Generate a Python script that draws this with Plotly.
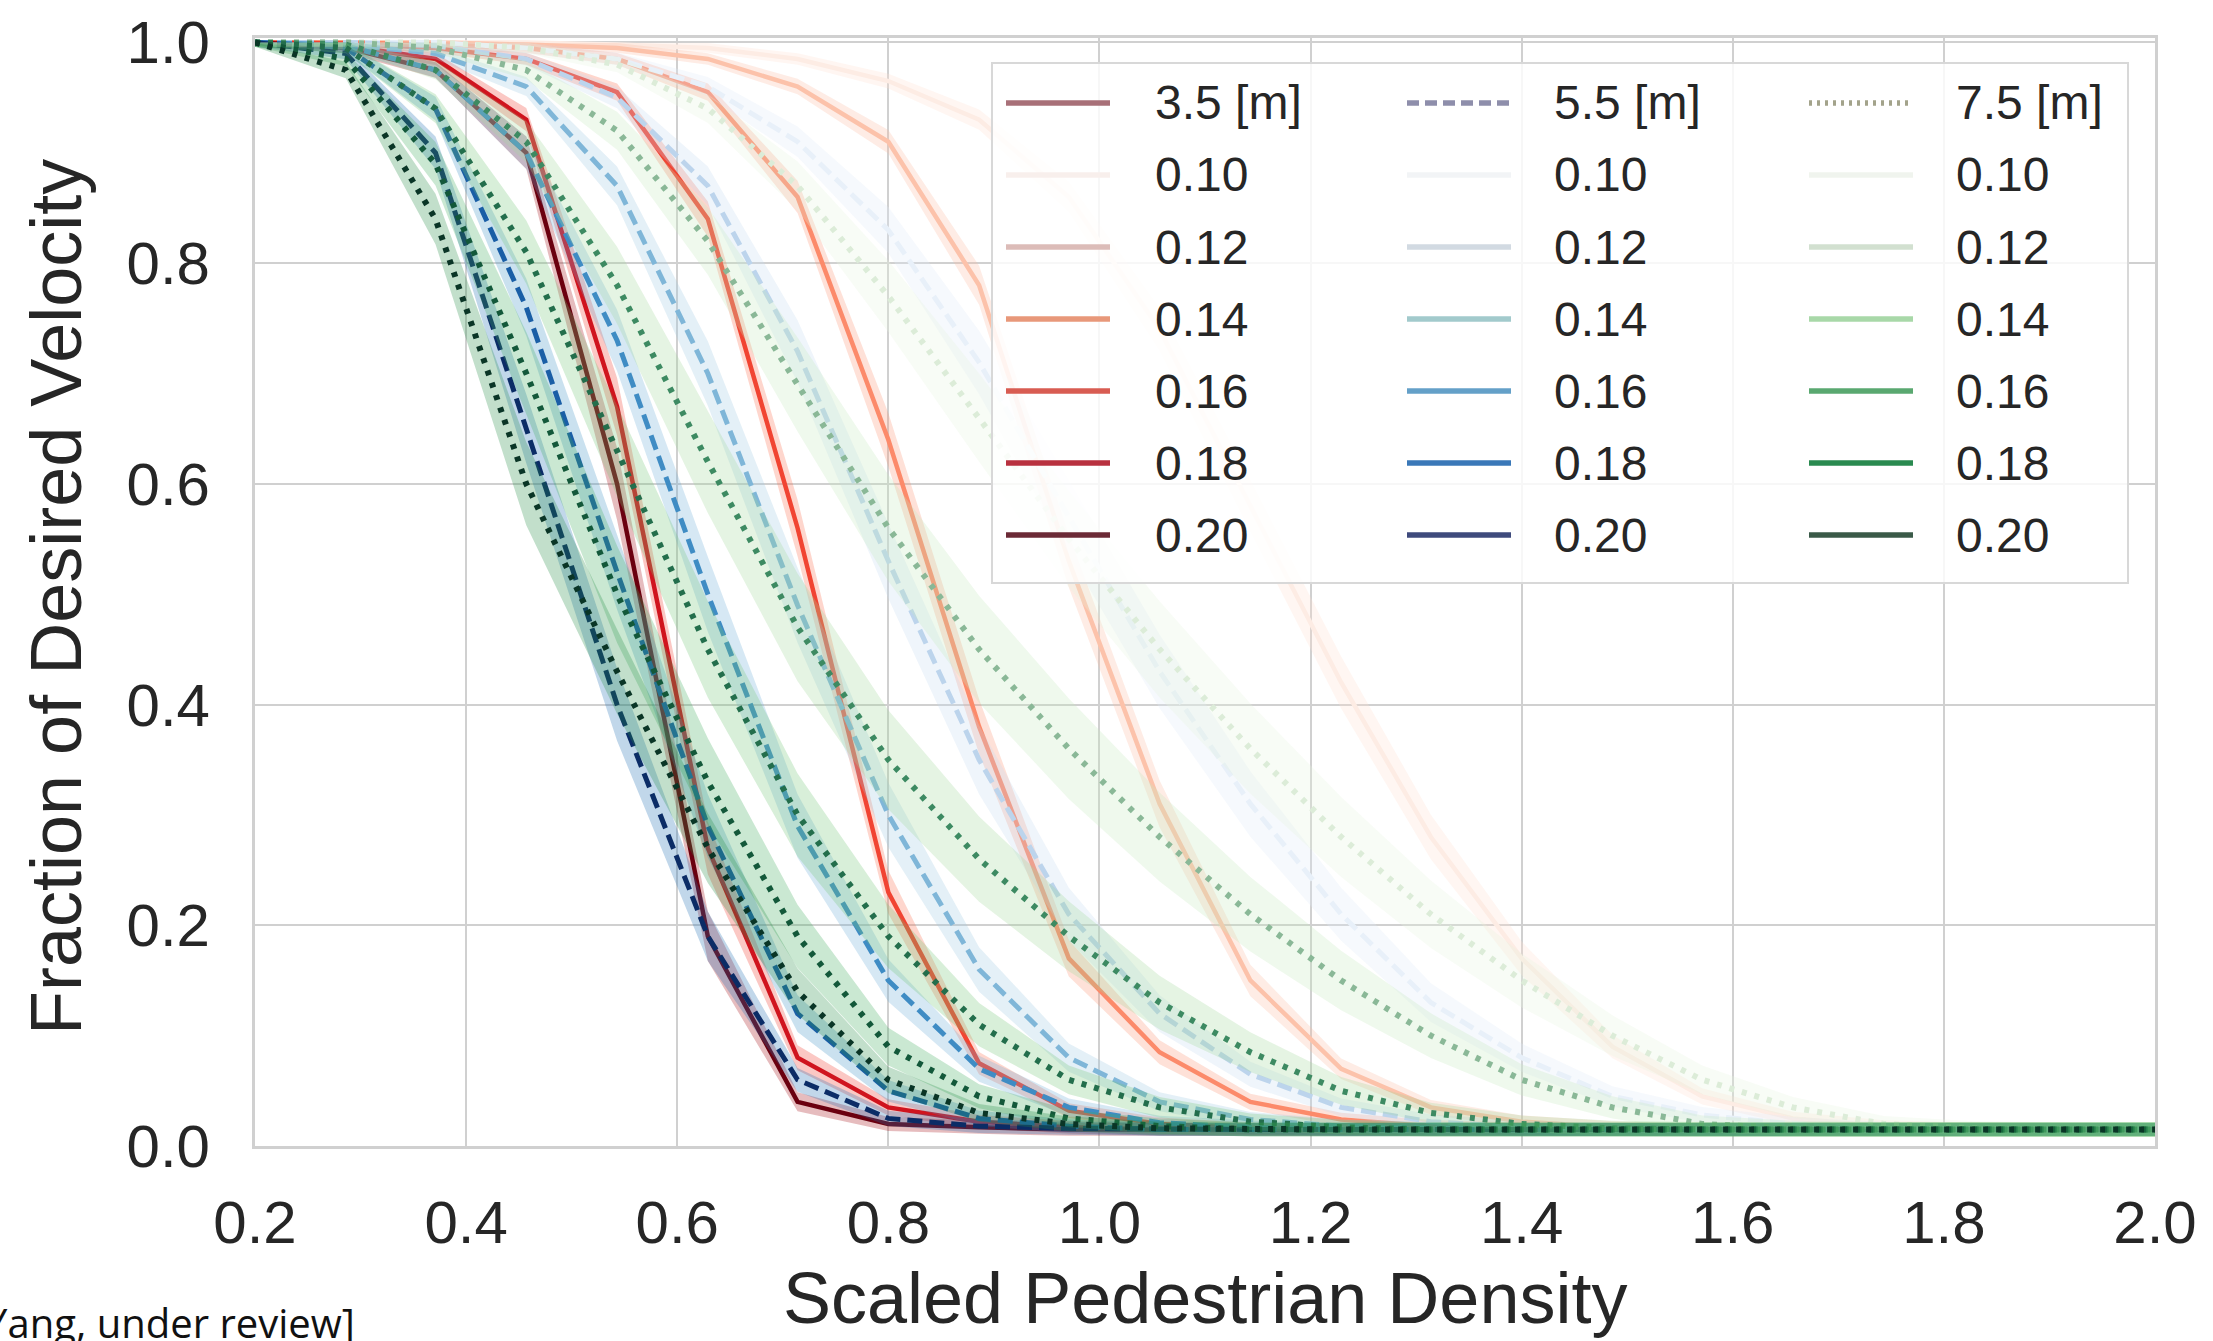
import plotly.graph_objects as go

# ---------------- data ----------------
density = [0.2, 0.286, 0.371, 0.457, 0.543, 0.629, 0.714, 0.8, 0.886, 0.971, 1.057,
           1.143, 1.229, 1.314, 1.4, 1.486, 1.571, 1.657, 1.743, 1.829, 1.914, 2.0]

value_labels = ["0.10", "0.12", "0.14", "0.16", "0.18", "0.20"]
distance_labels = ["3.5 [m]", "5.5 [m]", "7.5 [m]"]

# 3.5 [m]  (solid)
v35_010 = [1.0, 1.0, 1.0, 1.0, 0.998, 0.995, 0.985, 0.965, 0.93, 0.86, 0.74, 0.58, 0.42, 0.28, 0.17, 0.09, 0.045, 0.025, 0.018, 0.016, 0.015, 0.015]
v35_012 = [1.0, 1.0, 1.0, 0.998, 0.995, 0.985, 0.96, 0.91, 0.78, 0.53, 0.31, 0.15, 0.07, 0.035, 0.022, 0.017, 0.015, 0.015, 0.015, 0.015, 0.015, 0.015]
v35_014 = [1.0, 1.0, 0.998, 0.995, 0.985, 0.955, 0.86, 0.64, 0.38, 0.17, 0.085, 0.04, 0.024, 0.018, 0.016, 0.015, 0.015, 0.015, 0.015, 0.015, 0.015, 0.015]
v35_016 = [1.0, 0.999, 0.995, 0.985, 0.955, 0.84, 0.56, 0.23, 0.075, 0.032, 0.02, 0.016, 0.015, 0.015, 0.015, 0.015, 0.015, 0.015, 0.015, 0.015, 0.015, 0.015]
v35_018 = [1.0, 0.997, 0.985, 0.93, 0.67, 0.27, 0.08, 0.035, 0.022, 0.017, 0.015, 0.015, 0.015, 0.015, 0.015, 0.015, 0.015, 0.015, 0.015, 0.015, 0.015, 0.015]
v35_020 = [1.0, 0.995, 0.975, 0.90, 0.60, 0.19, 0.04, 0.02, 0.017, 0.015, 0.015, 0.015, 0.015, 0.015, 0.015, 0.015, 0.015, 0.015, 0.015, 0.015, 0.015, 0.015]

# 5.5 [m]  (dashed)
v55_010 = [1.0, 1.0, 1.0, 0.995, 0.985, 0.96, 0.91, 0.83, 0.71, 0.57, 0.43, 0.31, 0.21, 0.13, 0.08, 0.045, 0.028, 0.02, 0.016, 0.015, 0.015, 0.015]
v55_012 = [1.0, 1.0, 0.997, 0.985, 0.95, 0.87, 0.72, 0.53, 0.35, 0.21, 0.12, 0.065, 0.035, 0.022, 0.017, 0.015, 0.015, 0.015, 0.015, 0.015, 0.015, 0.015]
v55_014 = [1.0, 0.998, 0.99, 0.96, 0.87, 0.70, 0.49, 0.30, 0.16, 0.08, 0.04, 0.024, 0.018, 0.016, 0.015, 0.015, 0.015, 0.015, 0.015, 0.015, 0.015, 0.015]
v55_016 = [1.0, 0.997, 0.975, 0.90, 0.73, 0.50, 0.29, 0.15, 0.07, 0.035, 0.021, 0.017, 0.015, 0.015, 0.015, 0.015, 0.015, 0.015, 0.015, 0.015, 0.015, 0.015]
v55_018 = [1.0, 0.995, 0.94, 0.76, 0.52, 0.29, 0.12, 0.05, 0.025, 0.018, 0.015, 0.015, 0.015, 0.015, 0.015, 0.015, 0.015, 0.015, 0.015, 0.015, 0.015, 0.015]
v55_020 = [1.0, 0.99, 0.90, 0.65, 0.40, 0.19, 0.06, 0.025, 0.018, 0.016, 0.015, 0.015, 0.015, 0.015, 0.015, 0.015, 0.015, 0.015, 0.015, 0.015, 0.015, 0.015]

# 7.5 [m]  (dotted)
v75_010 = [1.0, 1.0, 1.0, 0.995, 0.98, 0.94, 0.87, 0.77, 0.66, 0.55, 0.45, 0.36, 0.28, 0.21, 0.15, 0.10, 0.06, 0.035, 0.02, 0.016, 0.015, 0.015]
v75_012 = [1.0, 1.0, 0.995, 0.975, 0.92, 0.82, 0.69, 0.56, 0.45, 0.36, 0.28, 0.21, 0.15, 0.10, 0.06, 0.035, 0.02, 0.016, 0.015, 0.015, 0.015, 0.015]
v75_014 = [1.0, 0.998, 0.975, 0.91, 0.78, 0.62, 0.47, 0.35, 0.26, 0.19, 0.13, 0.085, 0.05, 0.03, 0.02, 0.016, 0.015, 0.015, 0.015, 0.015, 0.015, 0.015]
v75_016 = [1.0, 0.995, 0.94, 0.81, 0.63, 0.45, 0.30, 0.19, 0.11, 0.06, 0.035, 0.022, 0.017, 0.015, 0.015, 0.015, 0.015, 0.015, 0.015, 0.015, 0.015, 0.015]
v75_018 = [1.0, 0.985, 0.89, 0.70, 0.50, 0.33, 0.19, 0.09, 0.045, 0.025, 0.018, 0.015, 0.015, 0.015, 0.015, 0.015, 0.015, 0.015, 0.015, 0.015, 0.015, 0.015]
v75_020 = [1.0, 0.975, 0.84, 0.60, 0.43, 0.27, 0.14, 0.06, 0.03, 0.02, 0.016, 0.015, 0.015, 0.015, 0.015, 0.015, 0.015, 0.015, 0.015, 0.015, 0.015, 0.015]

# confidence-band half widths (at the steepest part of each curve)
ci_35 = [0.020, 0.020, 0.022, 0.022, 0.025, 0.030]
ci_55 = [0.030, 0.030, 0.030, 0.030, 0.030, 0.030]
ci_75 = [0.040, 0.045, 0.045, 0.040, 0.040, 0.035]

series = {
    "3.5 [m]": [v35_010, v35_012, v35_014, v35_016, v35_018, v35_020],
    "5.5 [m]": [v55_010, v55_012, v55_014, v55_016, v55_018, v55_020],
    "7.5 [m]": [v75_010, v75_012, v75_014, v75_016, v75_018, v75_020],
}
ci = {"3.5 [m]": ci_35, "5.5 [m]": ci_55, "7.5 [m]": ci_75}

# ---------------- styles ----------------
line_colors = {
    "3.5 [m]": ["#fdece4", "#fcc2aa", "#fc8a6a", "#f14432", "#d0141e", "#6b000f"],
    "5.5 [m]": ["#e8f0f9", "#bcd4ec", "#7fb6d8", "#3f8cc4", "#1a5ea6", "#0b2c66"],
    "7.5 [m]": ["#dcecd8", "#8ab897", "#3d8a62", "#236e4c", "#13583a", "#0a3526"],
}
band_colors = {
    "3.5 [m]": ["#fee0d2", "#fcbba1", "#fc9272", "#fb6a4a", "#ef3b2c", "#a50f15"],
    "5.5 [m]": ["#deebf7", "#c6dbef", "#9ecae1", "#6baed6", "#4292c6", "#2171b5"],
    "7.5 [m]": ["#e5f5e0", "#c7e9c0", "#a1d99b", "#74c476", "#41ab5d", "#238b45"],
}
band_alpha = 0.28
dashes = {"3.5 [m]": "solid", "5.5 [m]": "15px,7px", "7.5 [m]": "5px,8px"}
widths = {"3.5 [m]": 4.5, "5.5 [m]": 5, "7.5 [m]": 6}

legend_header_colors = {"3.5 [m]": "#a87078", "5.5 [m]": "#8e8eab", "7.5 [m]": "#a3a38b"}
legend_colors = {
    "3.5 [m]": ["#f8efec", "#dcbcb8", "#e8987a", "#d85c52", "#b8313f", "#6b2a36"],
    "5.5 [m]": ["#f2f4f6", "#d2dae2", "#a2cacc", "#64a0c8", "#3a78b8", "#3e4a7c"],
    "7.5 [m]": ["#f0f4ee", "#d2e0d0", "#a8d8a8", "#5aa870", "#2a8a50", "#3a5a48"],
}
legend_dashes = {"3.5 [m]": "solid", "5.5 [m]": "solid", "7.5 [m]": "solid"}
header_dashes = {"3.5 [m]": "solid", "5.5 [m]": "12px,6px", "7.5 [m]": "3px,5px"}


def rgba(hex_color, a):
    h = hex_color.lstrip("#")
    r, g, b = int(h[0:2], 16), int(h[2:4], 16), int(h[4:6], 16)
    return f"rgba({r},{g},{b},{a})"


fig = go.Figure()

for dist in distance_labels:
    for i, val in enumerate(value_labels):
        ys = series[dist][i]
        hw = ci[dist][i]
        upper = [min(1.0, y + hw * 4 * y * (1 - y) + 0.004) for y in ys]
        lower = [max(0.0, y - hw * 4 * y * (1 - y) - 0.004) for y in ys]
        fig.add_trace(go.Scatter(x=density, y=upper, mode="lines", line=dict(width=0),
                                 hoverinfo="skip", showlegend=False))
        fig.add_trace(go.Scatter(x=density, y=lower, mode="lines", line=dict(width=0),
                                 fill="tonexty", fillcolor=rgba(band_colors[dist][i], band_alpha),
                                 hoverinfo="skip", showlegend=False))
        fig.add_trace(go.Scatter(x=density, y=ys, mode="lines", name=f"{dist} {val}",
                                 line=dict(color=line_colors[dist][i], width=widths[dist],
                                           dash=dashes[dist]),
                                 showlegend=False))

# ---------------- layout ----------------
L, R, T, B = 255, 58, 38, 195
W, H = 2213, 1341
PW, PH = W - L - R, H - T - B


def px(X):
    return (X - L) / PW


def py(Y):
    return (H - B - Y) / PH


text_color = "#262626"
grid_color = "#d0d0d0"
tick_font = dict(family="Liberation Sans, Arial, sans-serif", size=60, color=text_color)

fig.update_layout(
    width=W, height=H,
    margin=dict(l=L, r=R, t=T, b=B, autoexpand=False),
    plot_bgcolor="white", paper_bgcolor="white",
    showlegend=False,
    xaxis=dict(range=[0.2, 2.0], tick0=0.2, dtick=0.2, tickformat=".1f",
               showgrid=True, gridcolor=grid_color, gridwidth=2,
               showline=True, linecolor=grid_color, linewidth=3, mirror=True,
               zeroline=False, ticks="", tickfont=tick_font, ticklabelstandoff=22),
    yaxis=dict(range=[0, 1.004], tick0=0, dtick=0.2, tickformat=".1f",
               showgrid=True, gridcolor=grid_color, gridwidth=2,
               showline=True, linecolor=grid_color, linewidth=3, mirror=True,
               zeroline=False, ticks="", tickfont=tick_font, ticklabelstandoff=30),
)

shapes = []
annotations = []

# axis titles
title_font = dict(family="Liberation Sans, Arial, sans-serif", size=72, color=text_color)
annotations.append(dict(text="Scaled Pedestrian Density", xref="paper", yref="paper",
                        x=0.5, y=py(1298), xanchor="center", yanchor="middle",
                        showarrow=False, font=title_font))
annotations.append(dict(text="Fraction of Desired Velocity", xref="paper", yref="paper",
                        x=px(56), y=py(597), xanchor="center", yanchor="middle",
                        textangle=-90, showarrow=False, font=title_font))

# source note at the lower-left edge
annotations.append(dict(text="[Yang, under review]", xref="paper", yref="paper",
                        x=px(-30), y=py(1322), xanchor="left", yanchor="middle",
                        showarrow=False,
                        font=dict(family="Open Sans, Liberation Sans, sans-serif", size=40, color="#111111")))

# manual legend
shapes.append(dict(type="rect", xref="paper", yref="paper",
                   x0=px(992), x1=px(2128), y0=py(583), y1=py(63),
                   fillcolor="rgba(255,255,255,0.82)", line=dict(color="#d8d8d8", width=2),
                   layer="above"))
row_y = [103, 175, 247, 319, 391, 463, 535]
handle_x = [(1006, 1110), (1407, 1511), (1809, 1913)]
text_x = [1153, 1552, 1954]
legend_font = dict(family="Liberation Sans, Arial, sans-serif", size=48, color=text_color)

for c, dist in enumerate(distance_labels):
    entries = [(dist, legend_header_colors[dist], header_dashes[dist])] + \
              [(v, col, legend_dashes[dist]) for v, col in zip(value_labels, legend_colors[dist])]
    for r, (label, color, dsh) in enumerate(entries):
        yy = py(row_y[r])
        shapes.append(dict(type="line", xref="paper", yref="paper",
                           x0=px(handle_x[c][0]), x1=px(handle_x[c][1]), y0=yy, y1=yy,
                           line=dict(color=color, width=5.5, dash=dsh), layer="above"))
        annotations.append(dict(text=label, xref="paper", yref="paper",
                                x=px(text_x[c]), y=yy, xanchor="left", yanchor="middle",
                                showarrow=False, font=legend_font))

fig.update_layout(shapes=shapes, annotations=annotations)

fig.write_html("out.html", config={"displayModeBar": False},
               post_script="document.body.style.margin='0';document.body.style.overflow='hidden';")
